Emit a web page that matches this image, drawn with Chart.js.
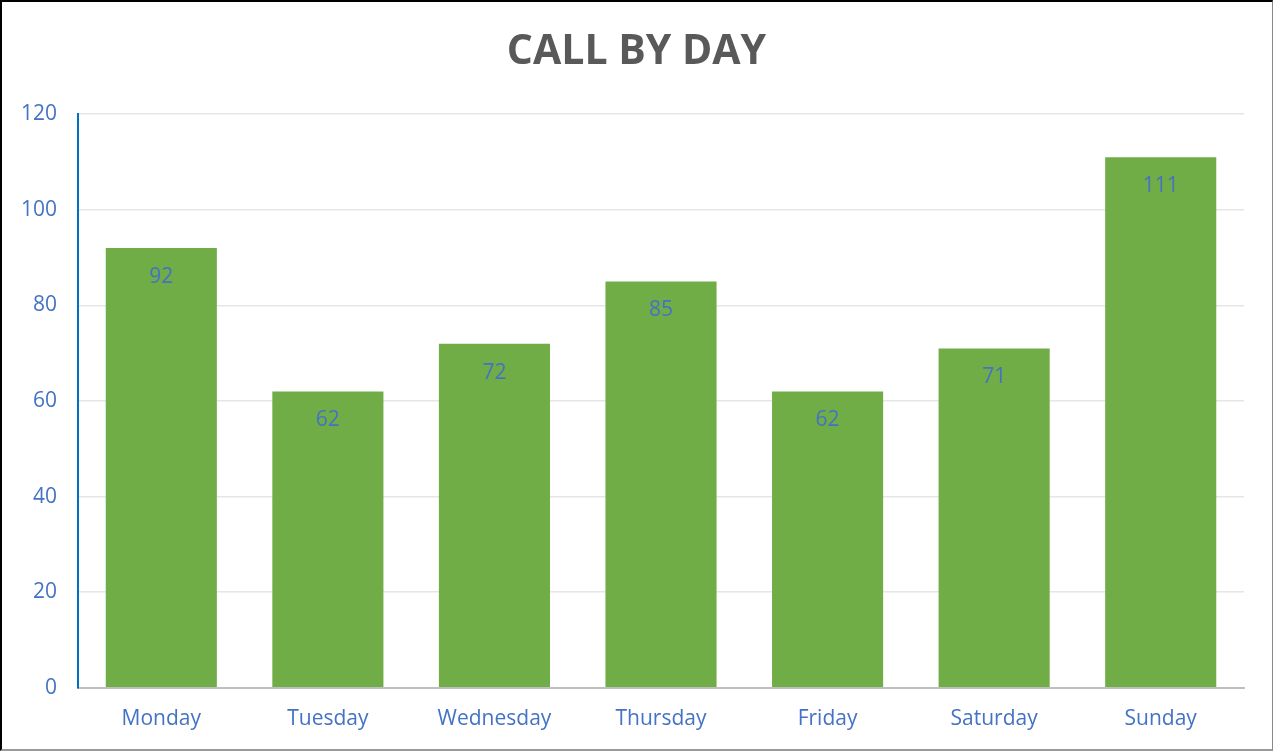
<!DOCTYPE html>
<html>
<head>
<meta charset="utf-8">
<script src="https://cdn.jsdelivr.net/npm/chart.js@4"></script>
<style>
  html, body { margin: 0; padding: 0; background: #fff; overflow: hidden; }
  #wrap { position: relative; width: 1273px; height: 751px; }
  #calls { position: absolute; left: 0; top: 0; }
  #frame {
    position: absolute; left: 0; top: 0;
    width: 1273px; height: 751px; box-sizing: border-box;
    border-top: 2px solid #000; border-left: 2px solid #000;
    border-right: 1px solid #888; border-bottom: 2px solid #9a9a9a;
    pointer-events: none;
  }
</style>
</head>
<body>
<div id="wrap">
  <canvas id="calls" width="1273" height="751"></canvas>
  <div id="frame"></div>
</div>
<script>
// data
var days = ['Monday', 'Tuesday', 'Wednesday', 'Thursday', 'Friday', 'Saturday', 'Sunday'];
var calls = [92, 62, 72, 85, 62, 71, 111];
var yTicks = [0, 20, 40, 60, 80, 100, 120];

var blueText = '#4472C4';

// value labels inside the top of each bar
var barLabels = {
  id: 'barLabels',
  afterDatasetsDraw: function (chart) {
    var ctx = chart.ctx;
    var meta = chart.getDatasetMeta(0);
    ctx.save();
    ctx.font = '21px "Open Sans", sans-serif';
    ctx.fillStyle = blueText;
    ctx.textAlign = 'center';
    ctx.textBaseline = 'middle';
    meta.data.forEach(function (bar, i) {
      ctx.fillText(calls[i], bar.x, bar.y + 29);
    });
    ctx.restore();
  }
};

new Chart(document.getElementById('calls'), {
  type: 'bar',
  data: {
    labels: days,
    datasets: [{
      label: 'Calls',
      data: calls,
      backgroundColor: '#70AD47',
      borderWidth: 0,
      barPercentage: 0.667,
      categoryPercentage: 1
    }]
  },
  options: {
    responsive: false,
    animation: false,
    devicePixelRatio: 1,
    layout: { padding: 0 },
    plugins: {
      legend: { display: false },
      tooltip: { enabled: false },
      title: {
        display: true,
        text: 'CALL BY DAY',
        color: '#595959',
        font: { family: '"Open Sans", sans-serif', size: 41, weight: 'bold' },
        padding: { top: 28, bottom: 37 }
      }
    },
    scales: {
      x: {
        grid: { display: false, drawTicks: false },
        border: { color: '#BFBFBF', width: 2 },
        ticks: {
          color: blueText,
          padding: 19,
          maxRotation: 0,
          font: { family: '"Open Sans", sans-serif', size: 21 }
        },
        // keep the plot clear of the right edge without moving the title
        afterFit: function (scale) { scale.paddingRight = 29; }
      },
      y: {
        min: 0,
        max: 120,
        afterBuildTicks: function (axis) {
          axis.ticks = yTicks.map(function (v) { return { value: v }; });
        },
        grid: { color: '#E6E6E6', lineWidth: 1.5, drawTicks: false },
        border: { color: '#0070C0', width: 2 },
        ticks: {
          color: blueText,
          padding: 21,
          font: { family: '"Open Sans", sans-serif', size: 21 }
        }
      }
    }
  },
  plugins: [barLabels]
});
</script>
</body>
</html>
